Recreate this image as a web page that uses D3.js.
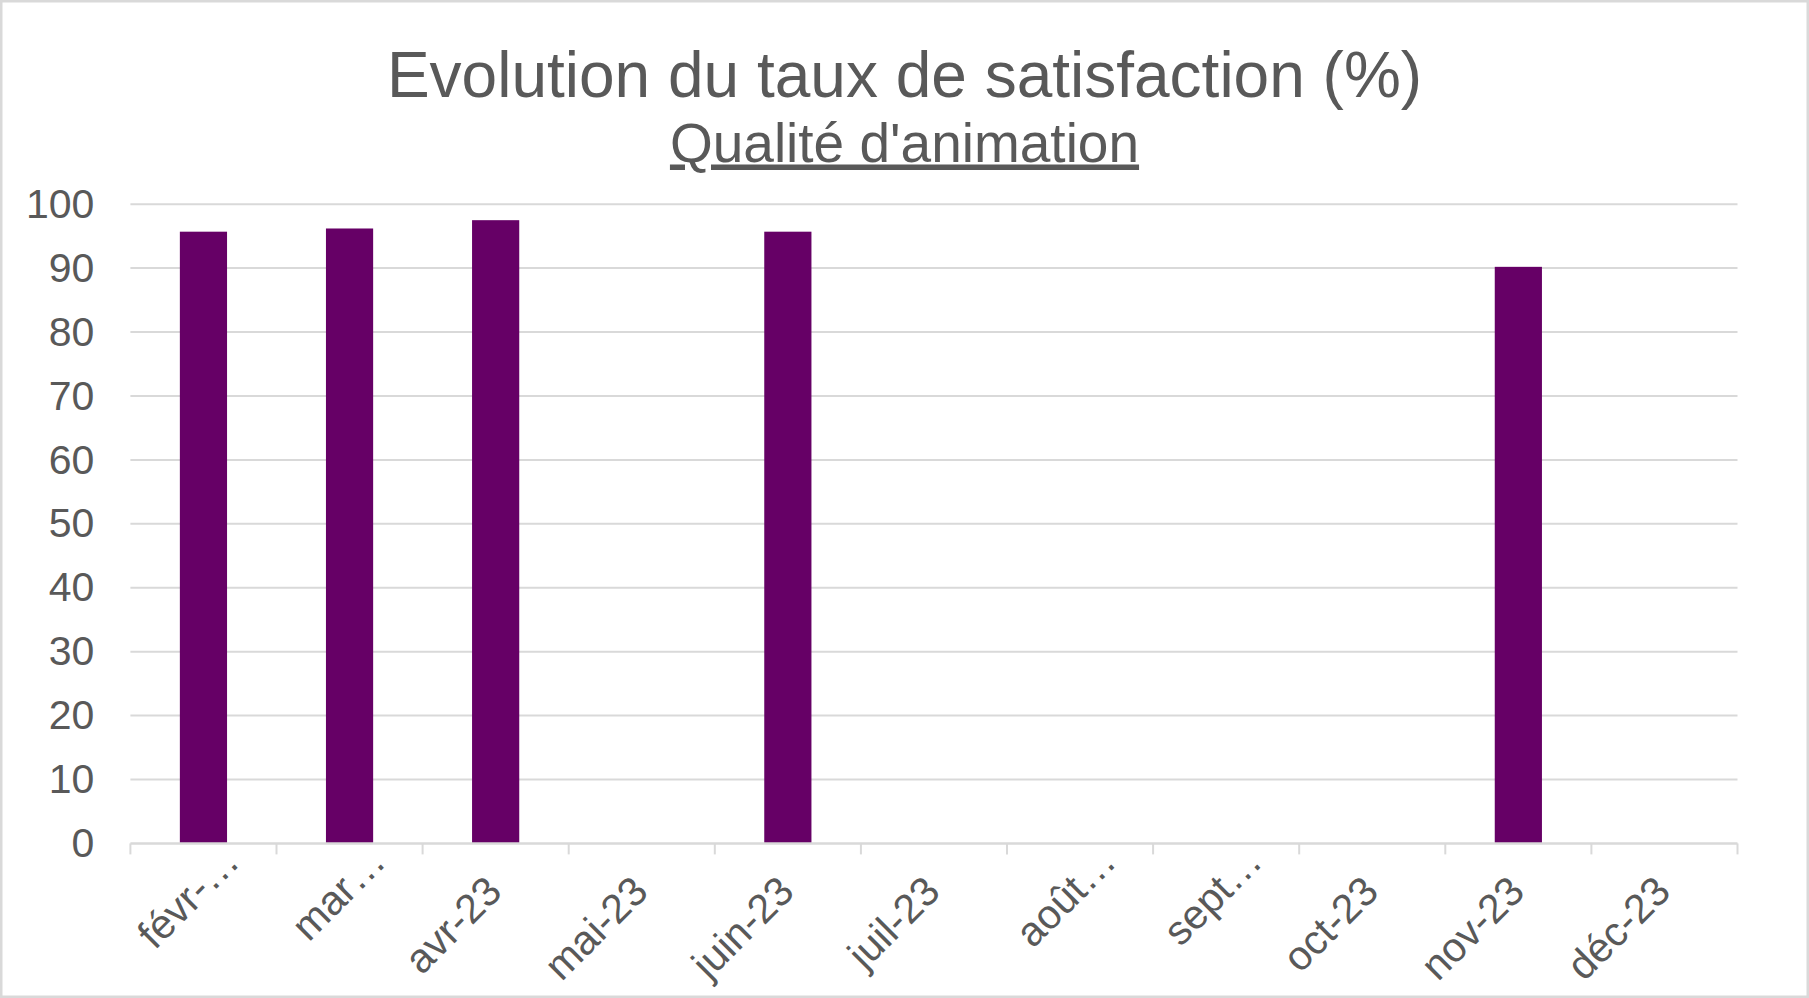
<!DOCTYPE html>
<html>
<head>
<meta charset="utf-8">
<script src="https://cdn.jsdelivr.net/npm/d3@7/dist/d3.min.js"></script>
<style>
  html, body { margin: 0; padding: 0; background: #fff; }
  svg { display: block; }
  text { font-family: "Liberation Sans", Arial, sans-serif; fill: #595959; }
</style>
</head>
<body>
<svg id="chart" width="1809" height="998"></svg>
<script>
// ---- Data ----
const categories = ["févr-…", "mar…", "avr-23", "mai-23", "juin-23", "juil-23", "août…", "sept…", "oct-23", "nov-23", "déc-23"];
const values = [95.7, 96.2, 97.5, null, 95.7, null, null, null, null, 90.2, null];
const yTicks = [0, 10, 20, 30, 40, 50, 60, 70, 80, 90, 100];
const titleText = "Evolution du taux de satisfaction (%)";
const subtitleText = "Qualité d'animation";

// ---- Layout ----
const W = 1809, H = 998;
const plot = { left: 130.4, right: 1737.5, top: 204.2, bottom: 843.4 };
const barColor = "#660066";
const gridColor = "#d9d9d9";
const axisFont = 41;

const svg = d3.select("#chart");

// border
svg.append("rect")
  .attr("x", 1.25).attr("y", 1.25)
  .attr("width", W - 2.5).attr("height", H - 2.5)
  .attr("fill", "#fff").attr("stroke", gridColor).attr("stroke-width", 2.5);

// scales
const x = d3.scaleBand()
  .domain(categories)
  .range([plot.left, plot.right])
  .paddingInner(0.677)
  .paddingOuter(0.3385);
const y = d3.scaleLinear().domain([0, 100]).range([plot.bottom, plot.top]);

// title
svg.append("text")
  .attr("x", W / 2).attr("y", 96.5)
  .attr("text-anchor", "middle")
  .style("font-size", "64px")
  .text(titleText);
svg.append("text")
  .attr("x", W / 2).attr("y", 161.5)
  .attr("text-anchor", "middle")
  .style("font-size", "55px")
  .style("text-decoration", "underline")
  .text(subtitleText);

// gridlines
svg.append("g").selectAll("line")
  .data(yTicks.filter(d => d !== 0))
  .join("line")
  .attr("x1", plot.left).attr("x2", plot.right)
  .attr("y1", d => y(d)).attr("y2", d => y(d))
  .attr("stroke", gridColor).attr("stroke-width", 2);

// y axis labels
const yAxis = svg.append("g")
  .attr("transform", `translate(${plot.left},0)`)
  .call(d3.axisLeft(y).tickValues(yTicks).tickSize(0).tickPadding(36));
yAxis.select(".domain").remove();
yAxis.selectAll("text")
  .style("font-size", axisFont + "px")
  .style("font-family", '"Liberation Sans", Arial, sans-serif')
  .attr("fill", "#595959");

// bars
svg.append("g").selectAll("rect")
  .data(categories.map((c, i) => ({ c, v: values[i] })).filter(d => d.v != null))
  .join("rect")
  .attr("x", d => x(d.c))
  .attr("width", x.bandwidth())
  .attr("y", d => y(d.v))
  .attr("height", d => y(0) - y(d.v))
  .attr("fill", barColor);

// x axis line
svg.append("line")
  .attr("x1", plot.left).attr("x2", plot.right)
  .attr("y1", y(0)).attr("y2", y(0))
  .attr("stroke", gridColor).attr("stroke-width", 2.5);

// tick marks at category boundaries
const step = x.step();
svg.append("g").selectAll("line")
  .data(d3.range(categories.length + 1))
  .join("line")
  .attr("x1", i => plot.left + i * step).attr("x2", i => plot.left + i * step)
  .attr("y1", y(0)).attr("y2", y(0) + 11)
  .attr("stroke", gridColor).attr("stroke-width", 2);

// x axis labels
const xAxis = svg.append("g")
  .attr("transform", `translate(0,${y(0)})`)
  .call(d3.axisBottom(x).tickSize(0).tickPadding(0));
xAxis.select(".domain").remove();
xAxis.selectAll("text")
  .style("font-size", axisFont + "px")
  .style("font-family", '"Liberation Sans", Arial, sans-serif')
  .attr("fill", "#595959")
  .attr("text-anchor", "end")
  .attr("dy", null)
  .attr("y", 0)
  .attr("dx", d => d.endsWith("…") ? "1.03em" : "0")
  .attr("transform", "translate(8.3,50.3) rotate(-45)");
</script>
</body>
</html>
